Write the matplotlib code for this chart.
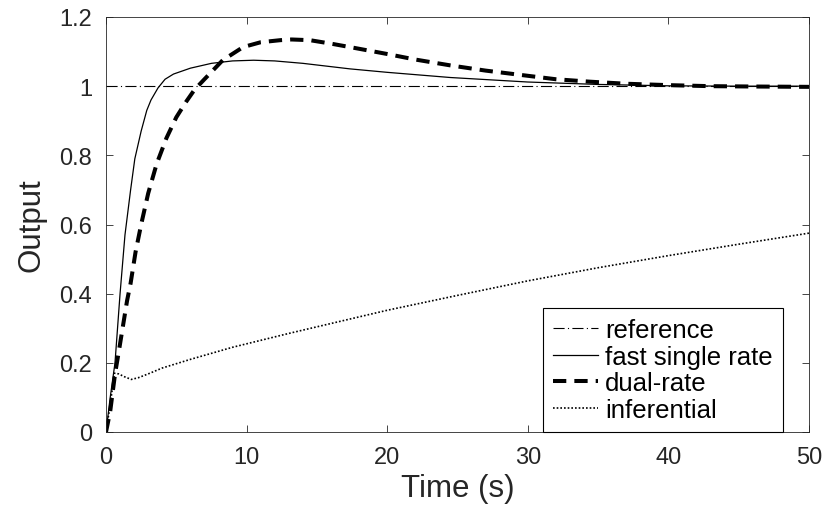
import matplotlib
matplotlib.use("Agg")
import matplotlib.pyplot as plt

plt.rcParams['font.family'] = ['Liberation Sans', 'DejaVu Sans']

# Step responses (time in seconds, output)
t_ref = [0, 50]
y_ref = [1, 1]

t_fast = [0, 0.3, 0.64, 1.0, 1.35, 1.75, 2.05, 2.5, 2.9, 3.2, 3.7, 4.2, 4.8, 6, 7.5,
          9, 10.5, 12, 14, 17.35, 20, 24.5, 30, 35, 40, 45, 50]
y_fast = [0, 0.1, 0.2, 0.4, 0.57, 0.7, 0.79, 0.87, 0.93, 0.96, 0.995, 1.02, 1.035, 1.052, 1.066,
          1.073, 1.075, 1.073, 1.066, 1.05, 1.04, 1.025, 1.012, 1.005, 1.001, 1.0, 1.0]

t_dual = [0, 0.3, 0.65, 0.9, 1.1, 1.3, 1.5, 1.75, 2.1, 2.5, 3.0, 3.6, 4.3, 5.0, 5.7,
          6.3, 7.0, 8.3, 9.75, 11, 12.4, 13.2, 14.5, 16, 17.35, 20, 22, 24.5, 27,
          30, 32, 34.4, 37, 40, 43, 46, 50]
y_dual = [0, 0.06, 0.17, 0.23, 0.28, 0.33, 0.38, 0.43, 0.52, 0.6, 0.69, 0.775, 0.85, 0.91, 0.955,
          0.99, 1.02, 1.075, 1.113, 1.127, 1.133, 1.135, 1.133, 1.123, 1.113, 1.093, 1.077, 1.06, 1.045,
          1.03, 1.02, 1.013, 1.007, 1.003, 1.0, 0.999, 0.998]

t_inf = [0, 0.3, 0.6, 0.9, 1.3, 1.8, 2.3, 3, 4, 6, 9, 13, 20, 25, 30, 35, 40, 45, 50]
y_inf = [0, 0.08, 0.17, 0.168, 0.16, 0.152, 0.157, 0.168, 0.185, 0.21, 0.245, 0.285,
         0.352, 0.395, 0.437, 0.475, 0.51, 0.543, 0.575]

xticks = [0, 10, 20, 30, 40, 50]
yticks = [0, 0.2, 0.4, 0.6, 0.8, 1.0, 1.2]
ytick_labels = ['0', '0.2', '0.4', '0.6', '0.8', '1', '1.2']

fig = plt.figure(figsize=(8.27, 5.10), dpi=100)
ax = fig.add_axes([106 / 827, 1 - 433 / 510, 703 / 827, 415 / 510])

ax.plot(t_ref, y_ref, color='k', lw=0.8, linestyle=(0, (10, 3, 1, 3)), label='reference')
ax.plot(t_fast, y_fast, color='k', lw=0.9, label='fast single rate')
ax.plot(t_dual, y_dual, color='k', lw=2.9, linestyle=(0, (3.3, 2)), label='dual-rate')
ax.plot(t_inf, y_inf, color='k', lw=1.2, linestyle=(0, (1, 1.2)), label='inferential')

ax.set_xlim(0, 50)
ax.set_ylim(0, 1.2)
ax.set_xticks(xticks)
ax.set_yticks(yticks)
ax.set_yticklabels(ytick_labels)

ax.tick_params(direction='in', length=5, width=0.6, top=True, right=True,
               labelsize=17, colors='#262626', labelcolor='#262626', pad=10)
for s in ax.spines.values():
    s.set_linewidth(0.6)
    s.set_color('#262626')

ax.set_xlabel('Time (s)', fontsize=22.5, color='#262626', labelpad=4)
ax.set_ylabel('Output', fontsize=22.5, color='#262626', labelpad=9)

leg = ax.legend(loc='lower right', bbox_to_anchor=(0.963, 0.0), borderaxespad=0,
                fontsize=18.5, fancybox=False, framealpha=1, edgecolor='k',
                handlelength=1.75, handletextpad=0.27, labelspacing=0.1, borderpad=0.4)
leg.get_frame().set_linewidth(0.8)

fig.savefig('out.png', dpi=100)
